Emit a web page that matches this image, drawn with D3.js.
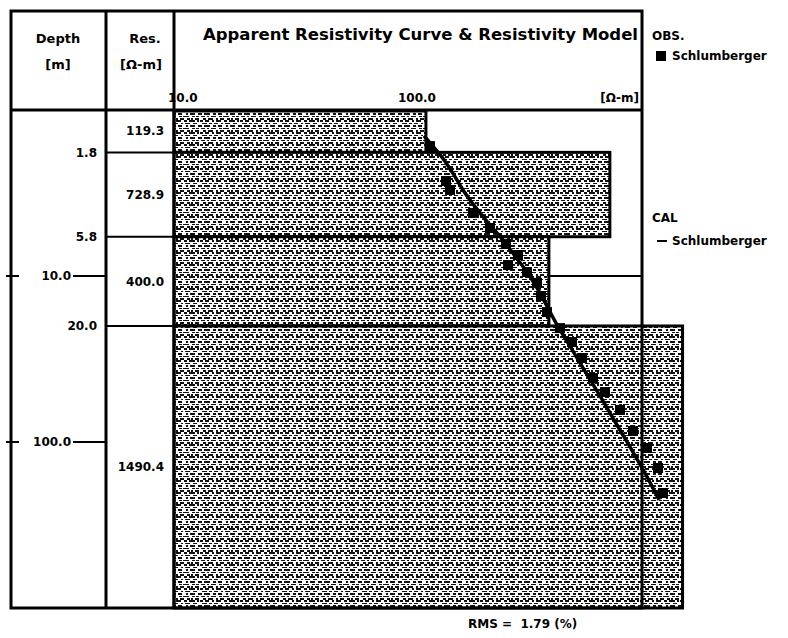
<!DOCTYPE html>
<html>
<head>
<meta charset="utf-8">
<script src="https://cdn.jsdelivr.net/npm/d3@7"></script>
<style>
  html, body { margin: 0; padding: 0; background: #fff; }
  svg { display: block; }
  text { font-family: "DejaVu Sans", "Liberation Sans", sans-serif; font-weight: bold; fill: #000; }
</style>
</head>
<body>
<svg id="chart" width="788" height="638"></svg>
<script>
// ---------------- data ----------------
const layerRes = [119.3, 728.9, 400.0, 1490.4];          // Ω-m
const layerTop = [1, 1.8, 5.8, 20.0];                    // m
const layerBottom = [1.8, 5.8, 20.0, 1000];              // m
const boundaryLabels = ["1.8", "5.8", "20.0"];
const resLabels = ["119.3", "728.9", "400.0", "1490.4"];

const depthTicks = [10, 100];
const depthTickLabels = ["10.0", "100.0"];
const resTicks = [10, 100];
const resTickLabels = ["10.0", "100.0"];

// observed apparent resistivity (Schlumberger): AB/2 [m], rho_a [Ω-m]
const obsAB2 = [1.65, 2.68, 3.03, 4.17, 5.14, 6.42, 7.47, 8.59, 9.46, 11.0, 13.2, 16.5, 20.6, 25.0, 31.2, 41.2, 50.0, 64.1, 85.9, 108.7, 143.4, 202.9];
const obsRho = [124.2, 145.3, 151.2, 189.6, 224.1, 262.3, 295.3, 267.6, 322.5, 355.9, 370.2, 392.6, 446.3, 502.2, 554.0, 617.5, 695.0, 805.4, 915.3, 1050.5, 1170.9, 1229.7];

// calculated curve
const calAB2 = [1.43, 1.63, 1.89, 2.36, 3.03, 3.89, 4.86, 6.07, 7.58, 9.46, 12.1, 15.6, 19.7, 25.3, 35.8, 52.8, 79.0, 114.9, 158.0, 200.1, 223.6];
const calRho = [117.0, 126.6, 138.4, 154.2, 171.8, 195.3, 221.9, 254.7, 286.7, 322.5, 359.4, 396.5, 433.4, 482.9, 559.6, 661.5, 782.0, 915.3, 1040.1, 1136.6, 1182.0];

const rmsText = "RMS =  1.79 (%)";

// ---------------- layout ----------------
const svg = d3.select("#chart");
const L = 11, T = 11, R = 642, B = 608;
const colDepthR = 106;
const headerB = 110;

const x = d3.scaleLog().domain([10, 1000]).range([174, R]);
const y = d3.scaleLog().domain([1, 1000]).range([headerB, B]);

// stipple texture pattern
const defs = svg.append("defs");
const TW = 40, TH = 12;
const pat = defs.append("pattern").attr("id", "tex").attr("patternUnits", "userSpaceOnUse")
  .attr("width", TW).attr("height", TH);
pat.append("rect").attr("width", TW).attr("height", TH).attr("fill", "#fff");
const rows = [
  [0, 2, [[0,3],[5,4],[12,2],[16,5],[24,3],[29,6],[37,2]]],
  [3, 1, [[2,5],[9,3],[14,4],[21,2],[25,5],[33,4]]],
  [5, 2, [[0,2],[4,6],[13,3],[18,4],[26,2],[30,5],[38,2]]],
  [8, 1, [[1,4],[7,2],[11,5],[19,3],[23,6],[32,3],[36,3]]],
  [10, 2, [[3,3],[8,5],[16,2],[20,4],[27,3],[31,2],[35,4]]]
];
const dashes = [];
rows.forEach(([yy, h, segs]) => segs.forEach(([xx, w]) => dashes.push([xx, yy, w, h])));
pat.selectAll("rect.d").data(dashes).join("rect").attr("class", "d")
  .attr("x", d => d[0]).attr("y", d => d[1]).attr("width", d => d[2]).attr("height", d => d[3])
  .attr("fill", "#111").attr("shape-rendering", "crispEdges");

// grid lines (behind blocks)
svg.append("g").selectAll("line").data(depthTicks).join("line")
  .attr("x1", x(10)).attr("x2", R).attr("y1", d => y(d)).attr("y2", d => y(d))
  .attr("stroke", "#000").attr("stroke-width", 2);

// blocks
const layers = layerRes.map((r, i) => ({ r, top: layerTop[i], bot: layerBottom[i], label: resLabels[i] }));
svg.append("g").selectAll("rect").data(layers).join("rect")
  .attr("x", x(10))
  .attr("y", d => y(d.top) + (d.top === 1 ? 1 : 0))
  .attr("width", d => x(d.r) - x(10))
  .attr("height", d => y(d.bot) - y(d.top) - (d.top === 1 ? 1 : 0))
  .attr("fill", "url(#tex)")
  .attr("stroke", "#000").attr("stroke-width", 3);

// calculated curve
const line = d3.line().x(d => x(d[1])).y(d => y(d[0])).curve(d3.curveCatmullRom);
svg.append("path").datum(calAB2.map((a, i) => [a, calRho[i]]))
  .attr("d", line).attr("fill", "none").attr("stroke", "#000").attr("stroke-width", 3.5);

// observed points
const sq = d3.symbol().type(d3.symbolSquare).size(100);
svg.append("g").selectAll("path").data(obsAB2.map((a, i) => [a, obsRho[i]])).join("path")
  .attr("d", sq).attr("transform", d => `translate(${x(d[1])},${y(d[0])})`).attr("fill", "#000");

// frame
const frame = svg.append("g").attr("stroke", "#000").attr("fill", "none");
frame.append("rect").attr("x", L).attr("y", T).attr("width", R - L).attr("height", B - T).attr("stroke-width", 3);
frame.append("line").attr("x1", L).attr("x2", R).attr("y1", headerB).attr("y2", headerB).attr("stroke-width", 3);
frame.append("line").attr("x1", colDepthR).attr("x2", colDepthR).attr("y1", T).attr("y2", B).attr("stroke-width", 3);
frame.append("line").attr("x1", x(10)).attr("x2", x(10)).attr("y1", T).attr("y2", B).attr("stroke-width", 3);

// boundary lines in Res column
frame.selectAll("line.bd").data(layerTop.slice(1)).join("line").attr("class", "bd")
  .attr("x1", colDepthR).attr("x2", x(10)).attr("y1", d => y(d)).attr("y2", d => y(d)).attr("stroke-width", 2);

// depth ticks
const dt = svg.append("g");
depthTicks.forEach((d, i) => {
  dt.append("line").attr("x1", 6).attr("x2", 19).attr("y1", y(d)).attr("y2", y(d)).attr("stroke", "#000").attr("stroke-width", 2);
  dt.append("line").attr("x1", 73).attr("x2", colDepthR).attr("y1", y(d)).attr("y2", y(d)).attr("stroke", "#000").attr("stroke-width", 2);
  dt.append("text").attr("x", 71).attr("y", y(d)).attr("dy", "0.35em").attr("text-anchor", "end")
    .attr("font-size", 12).text(depthTickLabels[i]);
});

// boundary depth labels
svg.append("g").selectAll("text").data(layerTop.slice(1)).join("text")
  .attr("x", 97).attr("y", d => y(d)).attr("dy", "0.35em").attr("text-anchor", "end")
  .attr("font-size", 12).text((d, i) => boundaryLabels[i]);

// resistivity labels
svg.append("g").selectAll("text").data(layers).join("text")
  .attr("x", 164).attr("y", d => (y(d.top) + y(d.bot)) / 2).attr("dy", "0.35em").attr("text-anchor", "end")
  .attr("font-size", 12).text(d => d.label);

// header texts
svg.append("text").attr("x", 58).attr("y", 38).attr("dy", "0.35em").attr("text-anchor", "middle").attr("font-size", 13).text("Depth");
svg.append("text").attr("x", 58).attr("y", 64).attr("dy", "0.35em").attr("text-anchor", "middle").attr("font-size", 13).text("[m]");
svg.append("text").attr("x", 145).attr("y", 38).attr("dy", "0.35em").attr("text-anchor", "middle").attr("font-size", 13).text("Res.");
svg.append("text").attr("x", 141).attr("y", 64).attr("dy", "0.35em").attr("text-anchor", "middle").attr("font-size", 13).text("[Ω-m]");
svg.append("text").attr("x", 203).attr("y", 34).attr("dy", "0.35em").attr("font-size", 16)
  .attr("textLength", 435).attr("lengthAdjust", "spacingAndGlyphs")
  .text("Apparent Resistivity Curve & Resistivity Model");

// resistivity axis labels
svg.append("g").selectAll("text").data(resTicks).join("text")
  .attr("x", d => x(d) - (d === 10 ? 6 : 10)).attr("y", 98).attr("dy", "0.35em").attr("font-size", 12)
  .text((d, i) => resTickLabels[i]);
svg.append("text").attr("x", 639).attr("y", 98).attr("dy", "0.35em").attr("text-anchor", "end").attr("font-size", 12).text("[Ω-m]");

// legend
svg.append("text").attr("x", 652).attr("y", 36).attr("dy", "0.35em").attr("font-size", 12).text("OBS.");
svg.append("rect").attr("x", 656).attr("y", 51).attr("width", 10).attr("height", 10).attr("fill", "#000");
svg.append("text").attr("x", 672).attr("y", 56).attr("dy", "0.35em").attr("font-size", 12).text("Schlumberger");
svg.append("text").attr("x", 652).attr("y", 218).attr("dy", "0.35em").attr("font-size", 12).text("CAL");
svg.append("line").attr("x1", 657).attr("x2", 667).attr("y1", 241).attr("y2", 241).attr("stroke", "#000").attr("stroke-width", 2);
svg.append("text").attr("x", 672).attr("y", 241).attr("dy", "0.35em").attr("font-size", 12).text("Schlumberger");

// RMS
svg.append("text").attr("x", 468).attr("y", 624).attr("dy", "0.35em").attr("font-size", 12).attr("xml:space", "preserve").text(rmsText);
</script>
</body>
</html>
